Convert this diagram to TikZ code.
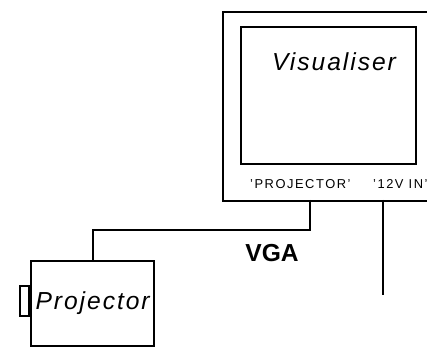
\documentclass[tikz,border=0pt]{standalone}
\usepackage{fontspec}
\setmainfont{Liberation Sans}
\usetikzlibrary{positioning}

\begin{document}
\begin{tikzpicture}[
    x=0.03cm, y=-0.03cm,
    box/.style={draw, line width=1.9pt, inner sep=0pt},
    wire/.style={line width=1.9pt},
    devname/.style={font=\itshape\fontsize{21}{21}\selectfont\addfontfeature{LetterSpace=8}},
    port/.style={font=\fontsize{11}{11}\selectfont\addfontfeature{LetterSpace=12}, anchor=west}
]
\clip (0,0) rectangle (427,347);

% Boxes
\node[box, minimum width=6.9cm, minimum height=5.67cm, anchor=north west] (vis) at (222,11) {};
\node[box, minimum width=5.25cm, minimum height=4.11cm, anchor=north west] (screen) at (240,26) {};
\node[box, minimum width=3.69cm, minimum height=2.55cm, anchor=north west, devname] (proj) at (30,260) {Projector};
\node[box, minimum width=0.27cm, minimum height=0.9cm, anchor=east] (lens) at ([yshift=2]proj.west) {};

% Labels
\node[devname] (vislabel) at (334,62) {Visualiser};
\node[port] (projport) at (246,184) {'PROJECTOR'};
\node[port] (pwrport) at (369,184) {'12V IN'};

% Wires
\coordinate (vgaout) at (310,200);
\coordinate (pwrin) at (383,200);
\coordinate (pwrend) at (383,295);
\draw[wire] (vgaout) -- (310,230) -| (proj.north);
\draw[wire] (pwrin) -- (pwrend);
\node[font=\bfseries\fontsize{21}{21}\selectfont] (vga) at (272,253) {VGA};

\end{tikzpicture}
\end{document}
